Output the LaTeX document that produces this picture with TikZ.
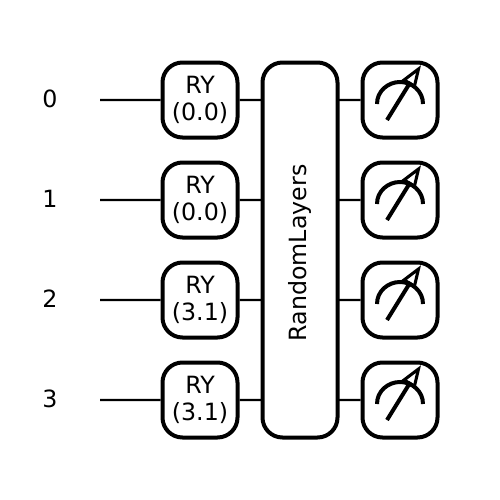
\documentclass[tikz,border=0pt]{standalone}
\usepackage{fontspec}
\setmainfont{DejaVu Sans}
\begin{document}
\begin{tikzpicture}[x=1pt,y=-1pt,
  wirelabel/.style={inner sep=0pt,font=\fontsize{17.8}{21}\selectfont},
  gatebox/.style={draw=black,line width=3pt,rounded corners=15pt,fill=white,minimum size=56.25pt,inner sep=0pt,align=center,font=\fontsize{17.8}{21}\selectfont},
  wireline/.style={draw=black,line width=1.8pt},
  dial/.style={draw=black,line width=3pt},
  needle/.style={draw=black,line width=3pt},
  scale=0.75]
\useasboundingbox (0,0) rectangle (500,500);
\foreach \i/\yy/\ang in {0/100/0.0,1/200/0.0,2/300/3.1,3/400/3.1}{
  \node[wirelabel] (L\i) at (50,\yy-1) {\i};
  \coordinate (S\i) at (100,\yy);
  \coordinate (B\i) at (262,\yy);
  \coordinate (A\i) at (338,\yy);
  \node[gatebox] (G\i) at (200,\yy) {};
  \node[inner sep=0pt,font=\fontsize{17.8}{21}\selectfont] (GA\i) at (200,\yy-15) {RY};
  \node[inner sep=0pt,font=\fontsize{17.8}{21}\selectfont] (GB\i) at (200,\yy+13) {(\ang)};
  \node[gatebox] (M\i) at (400,\yy) {};
}
\node[gatebox,minimum width=56.25pt,minimum height=281.25pt] (R) at (300,250) {};
\node[rotate=90,inner sep=0pt,font=\fontsize{17.8}{21}\selectfont] (RT) at (300,253) {RandomLayers};
\foreach \i/\yy in {0/100,1/200,2/300,3/400}{
  \draw[wireline] (S\i) -- (G\i);
  \draw[wireline] (G\i) -- (B\i);
  \draw[wireline] (A\i) -- (M\i);
  \begin{scope}[shift={(400,\yy)}]
    \draw[dial] (-23,4) .. controls (-23,-9) and (-12,-18) .. (0,-18) .. controls (12,-18) and (23,-9) .. (23,4);
    \draw[draw=black,line width=2.3pt,fill=white,line join=miter,miter limit=6] (18.5,-31) -- (4,-20) -- (14.5,-14) -- cycle;
    \draw[needle] (-13,20) -- (10.5,-18);
  \end{scope}
}
\end{tikzpicture}
\end{document}
